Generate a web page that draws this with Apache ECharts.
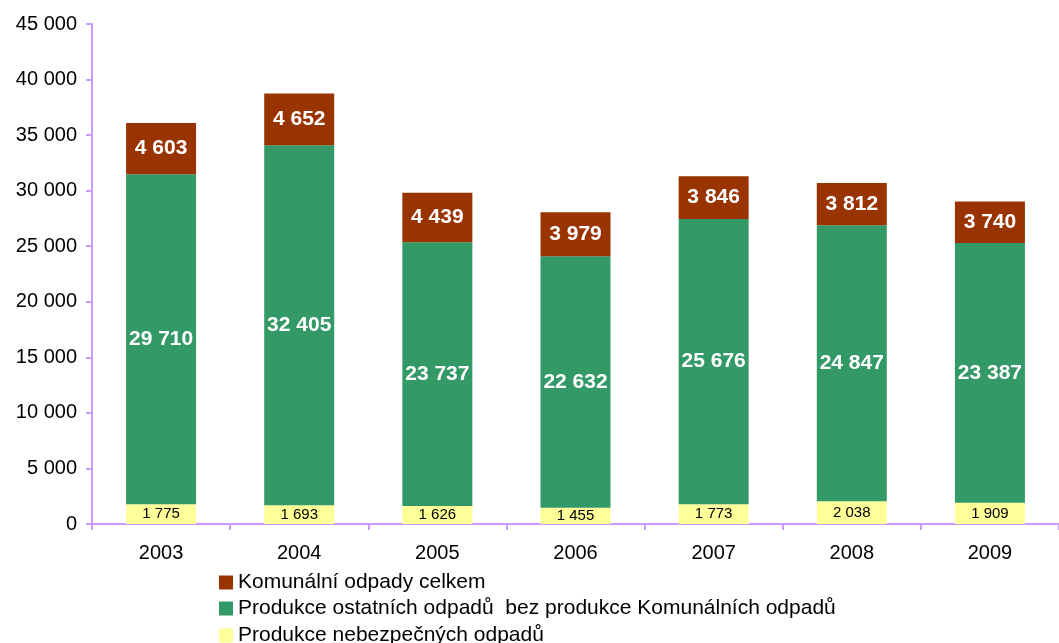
<!DOCTYPE html>
<html>
<head>
<meta charset="utf-8">
<script src="https://cdn.jsdelivr.net/npm/echarts@6/dist/echarts.min.js"></script>
<style>
  html, body { margin: 0; padding: 0; background: #fff; }
  #chart { width: 1059px; height: 643px; }
</style>
</head>
<body>
<div id="chart"></div>
<script>
// data
var years = ['2003', '2004', '2005', '2006', '2007', '2008', '2009'];
var nebezpecne = [1775, 1693, 1626, 1455, 1773, 2038, 1909];
var ostatni = [29710, 32405, 23737, 22632, 25676, 24847, 23387];
var komunalni = [4603, 4652, 4439, 3979, 3846, 3812, 3740];

var names = [
    'Komunální odpady celkem',
    'Produkce ostatních odpadů  bez produkce Komunálních odpadů',
    'Produkce nebezpečných odpadů'
];

function fmt(v) {
    return String(v).replace(/\B(?=(\d{3})+(?!\d))/g, ' ');
}

var myChart = echarts.init(document.getElementById('chart'));

// jedna legenda na radek, aby se nezalomila do sloupcu
var legendTops = [572, 598, 625];
var legends = names.map(function (n, i) {
    return {
        orient: 'vertical',
        left: 219,
        top: legendTops[i],
        padding: 0,
        itemWidth: 14,
        itemHeight: 14,
        icon: 'rect',
        data: [n],
        textStyle: { fontSize: 21, color: '#000' }
    };
});

var option = {
    animation: false,
    textStyle: { fontFamily: 'Liberation Sans, Arial, sans-serif' },
    grid: { left: 92, right: -11, top: 24, bottom: 119 },
    legend: legends,
    xAxis: {
        type: 'category',
        data: years,
        axisLine: { lineStyle: { color: '#cc99ff', width: 2 } },
        axisTick: { show: true, length: 6, lineStyle: { color: '#cc99ff', width: 2 } },
        axisLabel: { fontSize: 20, color: '#000', margin: 19 }
    },
    yAxis: {
        type: 'value',
        min: 0,
        max: 45000,
        interval: 5000,
        splitLine: { show: false },
        axisLine: { show: true, lineStyle: { color: '#cc99ff', width: 2 } },
        axisTick: { show: true, length: 6, lineStyle: { color: '#cc99ff', width: 2 } },
        axisLabel: { fontSize: 20, color: '#000', margin: 15, formatter: fmt }
    },
    series: [
        {
            name: names[2],
            type: 'bar',
            stack: 'a',
            barWidth: 70,
            data: nebezpecne,
            itemStyle: { color: '#ffff99' },
            label: { show: true, position: 'inside', color: '#000', fontSize: 15, formatter: function (p) { return fmt(p.value); } }
        },
        {
            name: names[1],
            type: 'bar',
            stack: 'a',
            data: ostatni,
            itemStyle: { color: '#339966' },
            label: { show: true, position: 'inside', color: '#fff', fontSize: 21, fontWeight: 'bold', formatter: function (p) { return fmt(p.value); } }
        },
        {
            name: names[0],
            type: 'bar',
            stack: 'a',
            data: komunalni,
            itemStyle: { color: '#993300' },
            label: { show: true, position: 'inside', color: '#fff', fontSize: 21, fontWeight: 'bold', formatter: function (p) { return fmt(p.value); } }
        }
    ]
};

myChart.setOption(option);
</script>
</body>
</html>
